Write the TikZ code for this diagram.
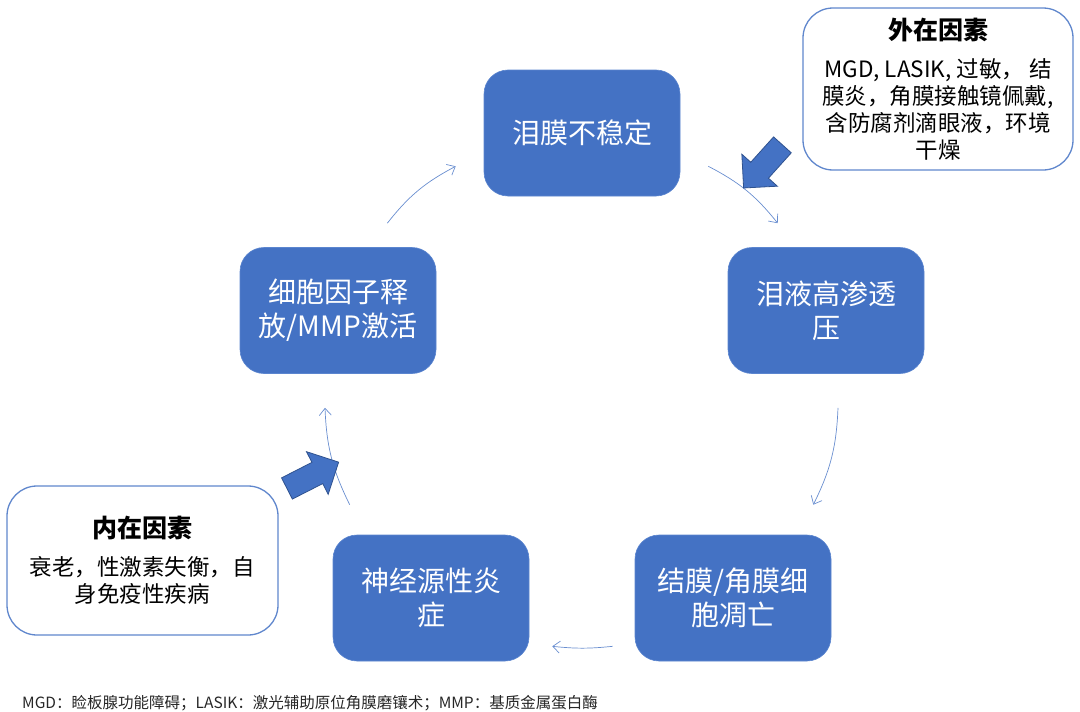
\documentclass[tikz,border=0pt]{standalone}
\usepackage{fontspec}
\setmainfont{Noto Sans CJK SC}
\usetikzlibrary{arrows.meta,shapes.arrows}
\definecolor{boxblue}{HTML}{4472C4}
\definecolor{boxedge}{HTML}{5B85CF}
\definecolor{pushedge}{HTML}{2F528F}
\newcommand{\factortitle}[1]{{\fontsize{25}{27}\selectfont\bfseries #1}}

\begin{document}
\begin{tikzpicture}[x=1pt,y=-1pt,
  stage/.style={rectangle,rounded corners=24pt,fill=boxblue,draw=boxedge,line width=0.6pt,
    minimum width=196pt,minimum height=126pt,inner sep=0pt,align=center,text=white,
    font=\fontsize{28}{34}\selectfont},
  factor/.style={rectangle,rounded corners=30pt,draw=boxblue!85,line width=1.3pt,fill=white,
    inner sep=0pt,align=center,font=\fontsize{22.5}{27}\selectfont},
  cyc/.style={-{Straight Barb[length=7pt,width=12pt]},draw=boxblue!80,line width=0.7pt,bend left=12},
  push/.style={single arrow,fill=boxblue,draw=pushedge,line width=0.8pt,inner xsep=0pt,inner ysep=11.5pt,
    minimum height=58pt,single arrow head extend=12pt}]
  \useasboundingbox (0,0) rectangle (1080,712);
  \node[stage] (tear) at (582,133) {泪膜不稳定};
  \node[stage] (osm) at (826,310.5) {泪液高渗透\\压};
  \node[stage] (apop) at (733,598) {结膜/角膜细\\胞凋亡};
  \node[stage] (neuro) at (431,598) {神经源性炎\\症};
  \node[stage] (cyto) at (338,310.5) {细胞因子释\\放/MMP激活};
  \draw[cyc] ([xshift=-49pt,yshift=24pt]cyto.north east) to ([xshift=-28pt,yshift=30pt]tear.south west);
  \draw[cyc] ([xshift=28pt,yshift=30pt]tear.south east) to ([xshift=50pt,yshift=24pt]osm.north west);
  \draw[cyc] ([xshift=12pt,yshift=-34pt]osm.south) to ([xshift=-18pt,yshift=30pt]apop.north east);
  \draw[cyc,bend left=6] ([xshift=-22pt,yshift=15pt]apop.south west) to ([xshift=23pt,yshift=15pt]neuro.south east);
  \draw[cyc] ([xshift=17pt,yshift=30pt]neuro.north west) to ([xshift=-13pt,yshift=-34pt]cyto.south);
  \node[factor,minimum width=270pt,minimum height=162pt] (ext) at (938,89)
    {\factortitle{外在因素}\\[11pt]MGD, LASIK, 过敏， 结\\膜炎，角膜接触镜佩戴,\\含防腐剂滴眼液，环境\\干燥};
  \node[factor,minimum width=271pt,minimum height=149pt] (int) at (142.5,560.5)
    {\factortitle{内在因素}\\[11pt]衰老，性激素失衡，自\\身免疫性疾病};
  \node[push,rotate=228] (extpush) at (767,162) {};
  \node[push,rotate=27] (intpush) at (307.5,478) {};
  \node[anchor=west,inner sep=0pt,text=black!85,font=\fontsize{15.5}{18}\selectfont] (note) at (22,703)
    {MGD：睑板腺功能障碍；LASIK：激光辅助原位角膜磨镶术；MMP：基质金属蛋白酶};
\end{tikzpicture}
\end{document}
